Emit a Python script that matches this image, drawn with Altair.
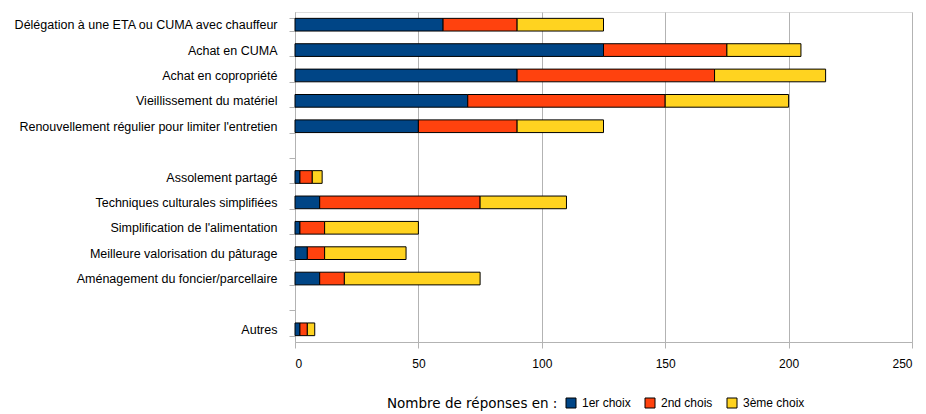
import altair as alt
import pandas as pd

categories = [
    "Délégation à une ETA ou CUMA avec chauffeur",
    "Achat en CUMA",
    "Achat en copropriété",
    "Vieillissement du matériel",
    "Renouvellement régulier pour limiter l'entretien",
    " ",
    "Assolement partagé",
    "Techniques culturales simplifiées",
    "Simplification de l'alimentation",
    "Meilleure valorisation du pâturage",
    "Aménagement du foncier/parcellaire",
    "  ",
    "Autres",
]
series = ["1er choix", "2nd chois", "3ème choix"]
first = [60, 125, 90, 70, 50, None, 2, 10, 2, 5, 10, None, 2]
second = [30, 50, 80, 80, 40, None, 5, 65, 10, 7, 10, None, 3]
third = [35, 30, 45, 50, 35, None, 4, 35, 38, 33, 55, None, 3]
colors = ["#004586", "#ff420e", "#ffd320"]
x_ticks = [0, 50, 100, 150, 200, 250]

rows = []
for i, c in enumerate(categories):
    for k, vals in enumerate([first, second, third]):
        if vals[i] is not None:
            rows.append({"cat": c, "serie": series[k], "ord": k, "val": vals[i]})
df = pd.DataFrame(rows)

font = "Liberation Sans"

chart = alt.Chart(df).mark_bar(stroke="#000000", strokeWidth=1).encode(
    y=alt.Y("cat:N", sort=categories,
            scale=alt.Scale(domain=categories, paddingInner=0.5, paddingOuter=0.25),
            axis=alt.Axis(title=None, tickBand="extent", tickSize=6, labelPadding=12,
                          domainColor="#b3b3b3", tickColor="#b3b3b3", labelFontSize=12.5,
                          labelFont=font, labelColor="#000000", labelLimit=400)),
    x=alt.X("val:Q", stack="zero",
            scale=alt.Scale(domain=[0, 250], nice=False),
            axis=alt.Axis(title=None, values=x_ticks, tickSize=6, labelPadding=10,
                          domainColor="#b3b3b3", tickColor="#b3b3b3", gridColor="#b3b3b3",
                          labelFontSize=12, labelFont=font, labelColor="#000000")),
    color=alt.Color("serie:N", scale=alt.Scale(domain=series, range=colors),
                    legend=alt.Legend(title="Nombre de réponses en :", orient="none",
                                      direction="horizontal", titleOrient="left",
                                      legendX=92, legendY=385, symbolType="square",
                                      symbolSize=100, symbolStrokeColor="#000000",
                                      symbolStrokeWidth=1, symbolOpacity=1,
                                      labelFontSize=12, labelFont=font, labelColor="#000000",
                                      titleFontSize=13.5, titleFont="DejaVu Sans",
                                      titleFontWeight="normal",
                                      titleColor="#000000", titlePadding=7, labelOffset=5,
                                      columnPadding=12, titleBaseline="middle")),
    order=alt.Order("ord:Q"),
).properties(
    width=617, height=330,
    autosize=alt.AutoSizeParams(type="none"),
    padding={"left": 295, "top": 12, "right": 14, "bottom": 72},
).configure_view(stroke="#b3b3b3").configure(background="#ffffff")

chart.save("out.html", embed_options={"renderer": "svg", "actions": False})
